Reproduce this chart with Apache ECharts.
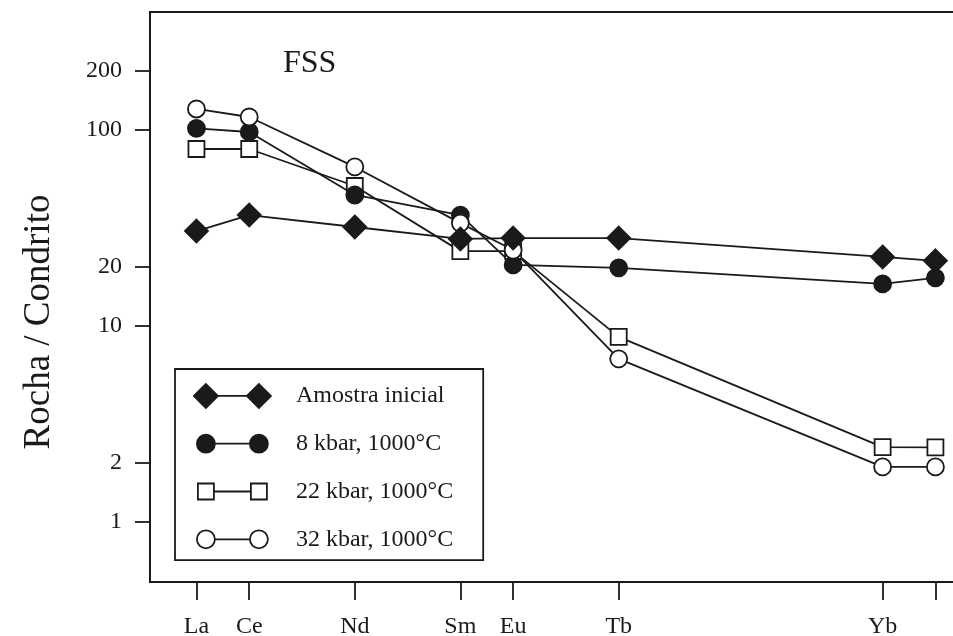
<!DOCTYPE html>
<html>
<head>
<meta charset="utf-8">
<title>FSS</title>
<script src="https://cdn.jsdelivr.net/npm/echarts@6/dist/echarts.min.js"></script>
<style>
    html, body { margin: 0; padding: 0; background: #fff; }
    #chart { width: 953px; height: 636px; }
</style>
</head>
<body>
<div id="chart"></div>
<script>
// elementos (posição no eixo x = número atômico)
const elements = ['La', 'Ce', 'Nd', 'Sm', 'Eu', 'Tb', 'Yb', 'Lu'];
const atomicNumbers = [57, 58, 60, 62, 63, 65, 70, 71];
const labelledNumbers = [57, 58, 60, 62, 63, 65, 70]; // Lu sem rótulo
const yTicks = [1, 2, 10, 20, 100, 200];

// Rocha / Condrito
const amostraInicial = [30.5, 36.8, 32.0, 27.8, 28.1, 28.1, 22.5, 21.5];
const kbar8 = [102, 97.7, 46.6, 36.8, 20.5, 19.8, 16.4, 17.6];
const kbar22 = [80, 80, 51.8, 24.1, 24.1, 8.8, 2.41, 2.40];
const kbar32 = [128, 116.5, 64.8, 33.5, 24.4, 6.8, 1.91, 1.91];

const names = ['Amostra inicial', '8 kbar, 1000°C', '22 kbar, 1000°C', '32 kbar, 1000°C'];

const ink = '#1a1a1a';
const serif = 'Liberation Serif';

function pairs(values) {
    return values.map((v, i) => [atomicNumbers[i], v]);
}

function makeSeries(name, values, symbol, size, fill) {
    return {
        name: name,
        type: 'line',
        data: pairs(values),
        symbol: symbol,
        symbolSize: size,
        lineStyle: { color: ink, width: 1.8 },
        itemStyle: { color: fill, borderColor: ink, borderWidth: 1.8 },
        emphasis: { disabled: true },
        animation: false
    };
}

// ícones da legenda: símbolo - linha - símbolo
const box = 'M0 0M97 24';
const diamondIcon = 'path://' + box + 'M0 12L12 0L24 12L12 24ZM53 12L65 0L77 12L65 24ZM24 12L53 12';
const dotIcon = 'path://' + box + 'M3 12A9 9 0 1 1 21 12A9 9 0 1 1 3 12ZM56 12A9 9 0 1 1 74 12A9 9 0 1 1 56 12ZM21 12L56 12';
const squareIcon = 'path://' + box + 'M4 4L20 4L20 20L4 20ZM57 4L73 4L73 20L57 20ZM20 12L57 12';

let myChart = echarts.init(document.getElementById('chart'));
myChart.setOption({
    backgroundColor: '#fff',
    animation: false,
    title: {
        text: 'FSS',
        left: 278,
        top: 43,
        textStyle: { fontFamily: serif, fontSize: 32, fontWeight: 'normal', color: ink }
    },
    grid: {
        left: 150, top: 12, width: 806, bottom: 54,
        outerBoundsMode: 'none',
        show: true, borderColor: ink, borderWidth: 1.8
    },
    legend: {
        orient: 'vertical',
        left: 175,
        top: 369,
        padding: [14, 30, 8, 18],
        itemWidth: 97,
        itemHeight: 24,
        itemGap: 22,
        borderColor: ink,
        borderWidth: 1.8,
        selectedMode: false,
        itemStyle: { borderColor: ink, borderWidth: 1.8 },
        textStyle: { fontFamily: serif, fontSize: 24, color: ink, lineHeight: 24 },
        data: [
            { name: names[0], icon: diamondIcon },
            { name: names[1], icon: dotIcon },
            { name: names[2], icon: squareIcon },
            { name: names[3], icon: dotIcon }
        ]
    },
    xAxis: {
        type: 'value',
        min: 56.12,
        max: 71.39,
        splitLine: { show: false },
        axisLine: { show: true, lineStyle: { color: ink, width: 1.8 } },
        axisTick: {
            show: true, inside: false, length: 18,
            customValues: atomicNumbers,
            lineStyle: { color: ink, width: 1.8 }
        },
        axisLabel: {
            customValues: labelledNumbers,
            margin: 33,
            fontFamily: serif, fontSize: 24, color: ink,
            formatter: v => elements[atomicNumbers.indexOf(v)]
        }
    },
    yAxis: {
        type: 'log',
        min: 0.494,
        max: 400,
        name: 'Rocha / Condrito',
        nameLocation: 'middle',
        nameGap: 92,
        nameTextStyle: { fontFamily: serif, fontSize: 37, color: ink, padding: [0, 50, 0, 0] },
        splitLine: { show: false },
        axisLine: { show: true, lineStyle: { color: ink, width: 1.8 } },
        axisTick: {
            show: true, inside: false, length: 15,
            customValues: yTicks,
            lineStyle: { color: ink, width: 1.8 }
        },
        axisLabel: {
            customValues: yTicks,
            margin: 28,
            fontFamily: serif, fontSize: 24, color: ink
        }
    },
    series: [
        makeSeries(names[2], kbar22, 'rect', 16, '#fff'),
        makeSeries(names[1], kbar8, 'circle', 17, ink),
        makeSeries(names[3], kbar32, 'circle', 17, '#fff'),
        makeSeries(names[0], amostraInicial, 'diamond', [23, 23], ink)
    ]
});
</script>
</body>
</html>
